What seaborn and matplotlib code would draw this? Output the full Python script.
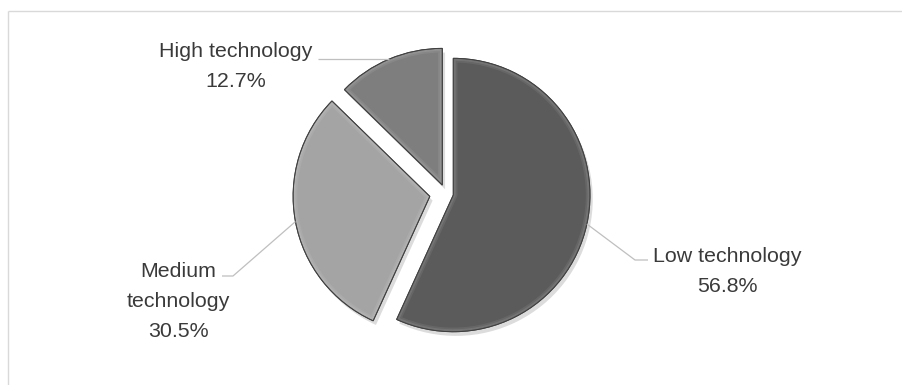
import matplotlib
matplotlib.use("Agg")
import matplotlib.pyplot as plt
import matplotlib.patheffects as pe
from matplotlib.patches import PathPatch
import numpy as np
import seaborn as sns

# Share of output by technology intensity (%)
categories = ["Low technology", "Medium technology", "High technology"]
shares = [56.8, 30.5, 12.7]
label_lines = [["Low technology"], ["Medium", "technology"], ["High technology"]]
pct_labels = ["56.8%", "30.5%", "12.7%"]

sns.set_theme(style="white")
plt.rcParams["font.family"] = ["Liberation Sans", "DejaVu Sans"]

slice_colors = ["#5b5b5b", "#a4a4a4", "#7e7e7e"]
explode_frac = [0.056, 0.119, 0.066]

W, H = 903, 385
fig = plt.figure(figsize=(W / 100, H / 100), dpi=100)
ax = fig.add_axes([0, 0, 1, 1])

center = (445.8, 191.6)
radius = 136.7
wedges, _ = ax.pie(
    shares,
    explode=[f * radius for f in explode_frac],
    colors=slice_colors,
    startangle=90,
    counterclock=False,
    center=center,
    radius=radius,
    wedgeprops=dict(edgecolor="#404040", linewidth=0.7),
)
ax.set_xlim(0, W)
ax.set_ylim(0, H)
ax.set_aspect("equal")
ax.axis("off")

for w in wedges:
    w.set_path_effects([
        pe.SimplePatchShadow(offset=(2, -3), shadow_rgbFace="0.55", alpha=0.3),
        pe.Normal(),
    ])
    # soft bevel: a thin light band just inside each slice outline
    for lw, a in [(6, 0.07), (3.5, 0.09)]:
        band = PathPatch(w.get_path(), transform=w.get_transform(),
                         facecolor="none", edgecolor="white", lw=lw, alpha=a,
                         zorder=w.get_zorder() + 0.1)
        ax.add_patch(band)
        band.set_clip_path(w)
    rim = PathPatch(w.get_path(), transform=w.get_transform(),
                    facecolor="none", edgecolor="#404040", lw=0.7,
                    zorder=w.get_zorder() + 0.2)
    ax.add_patch(rim)

# leader knees / ends and label anchors (x centre, first baseline)
leader_pts = [[(635, 125), (648, 125)],
              [(233, 109), (222, 109)],
              [(330, 326), (318, 326)]]
label_anchor = [(727, 123), (178.5, 108.3), (236, 328.3)]
line_step = 30

text_color = "#3a3a3a"
for w, pts, (lx, ly), lines, pct in zip(wedges, leader_pts, label_anchor, label_lines, pct_labels):
    mid = np.deg2rad((w.theta1 + w.theta2) / 2)
    cx, cy = w.center
    start = (cx + w.r * np.cos(mid), cy + w.r * np.sin(mid))
    if abs(pts[0][1] - start[1]) < 4:
        pts = [(pts[0][0], start[1]), (pts[1][0], start[1])]
    xs = [start[0]] + [p[0] for p in pts]
    ys = [start[1]] + [p[1] for p in pts]
    ax.plot(xs, ys, color="#bfbfbf", lw=0.9, solid_capstyle="butt")
    for i, t in enumerate(lines + [pct]):
        ax.text(lx, ly - i * line_step, t, ha="center", va="baseline",
                fontsize=15.4, color=text_color)

# chart area frame (top and left edges)
ax.plot([8.3, W], [H - 10.8, H - 10.8], color="#d9d9d9", lw=1.0, solid_capstyle="butt")
ax.plot([8.3, 8.3], [0, H - 10.8], color="#d9d9d9", lw=1.0, solid_capstyle="butt")

fig.savefig("out.png", dpi=100)
